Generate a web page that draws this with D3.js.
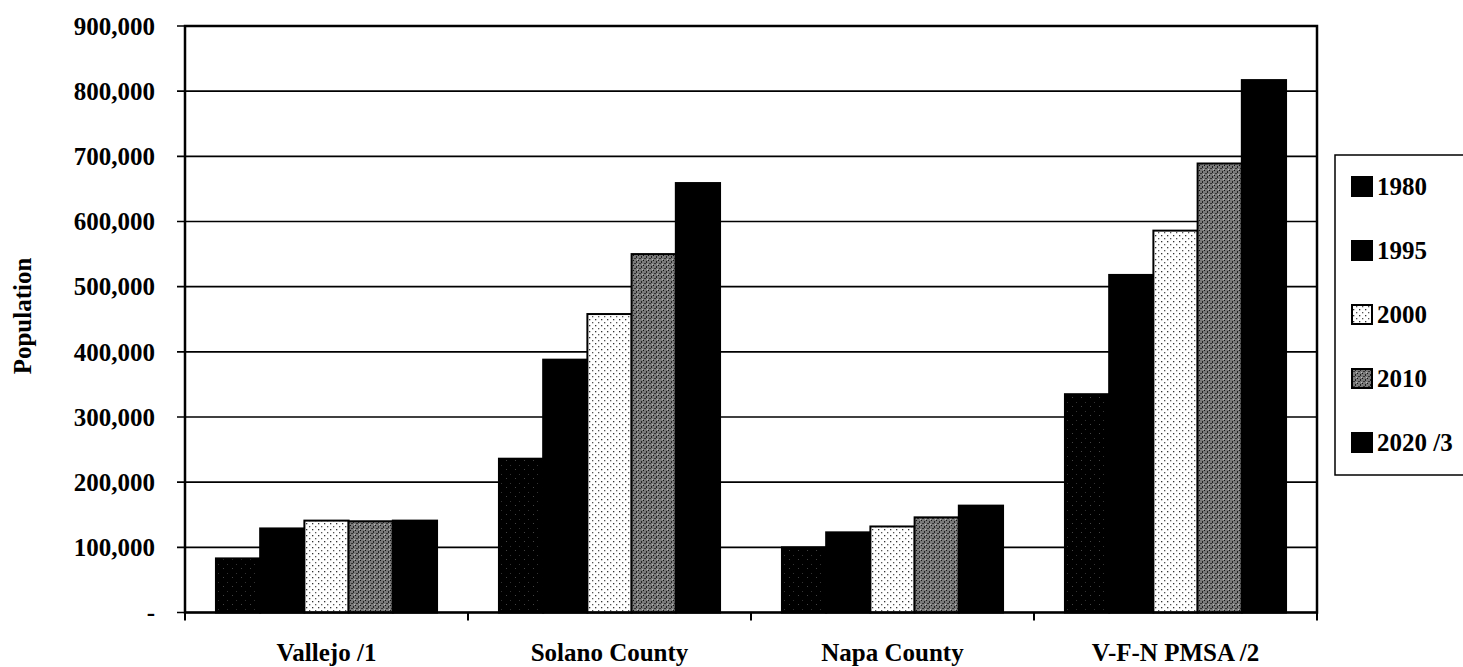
<!DOCTYPE html>
<html>
<head>
<meta charset="utf-8">
<script src="https://cdn.jsdelivr.net/npm/d3@7"></script>
<style>
  body { margin: 0; background: #fff; }
  svg text { font-family: 'Liberation Serif', 'Times New Roman', serif; font-weight: bold; fill: #000; }
</style>
</head>
<body>
<div id="chart"></div>
<script>
var categories = ['Vallejo /1', 'Solano County', 'Napa County', 'V-F-N PMSA /2']
var years = ['1980', '1995', '2000', '2010', '2020 /3']
var pop1980 = [83000, 236000, 100000, 335000]
var pop1995 = [129000, 388000, 123000, 518000]
var pop2000 = [141000, 458000, 132000, 586000]
var pop2010 = [140000, 550000, 146000, 689000]
var pop2020 = [141000, 659000, 164000, 817000]
var yTicks = [0, 100000, 200000, 300000, 400000, 500000, 600000, 700000, 800000, 900000]

var series = [pop1980, pop1995, pop2000, pop2010, pop2020]

var width = 1463
var height = 667
var margin = { top: 26, left: 185, right: 146, bottom: 54.5 }

var svg = d3.select('#chart')
  .append('svg')
  .attr('width', width)
  .attr('height', height)

// fills that imitate the printed shading
var defs = svg.append('defs')

var p80 = defs.append('pattern').attr('id', 'fill-1980')
  .attr('patternUnits', 'userSpaceOnUse').attr('width', 9).attr('height', 9)
p80.append('rect').attr('width', 9).attr('height', 9).attr('fill', '#000')
p80.append('rect').attr('x', 2).attr('y', 1).attr('width', 1).attr('height', 1).attr('fill', '#444')
p80.append('rect').attr('x', 6).attr('y', 6).attr('width', 1).attr('height', 1).attr('fill', '#333')

var p00 = defs.append('pattern').attr('id', 'fill-2000')
  .attr('patternUnits', 'userSpaceOnUse').attr('width', 6).attr('height', 6)
p00.append('rect').attr('width', 6).attr('height', 6).attr('fill', '#fff')
p00.append('rect').attr('x', 1).attr('y', 1).attr('width', 1.3).attr('height', 1.3).attr('fill', '#333')
p00.append('rect').attr('x', 4).attr('y', 4).attr('width', 1.3).attr('height', 1.3).attr('fill', '#555')

var p10 = defs.append('pattern').attr('id', 'fill-2010')
  .attr('patternUnits', 'userSpaceOnUse').attr('width', 5).attr('height', 5)
p10.append('rect').attr('width', 5).attr('height', 5).attr('fill', '#7a7a7a')
p10.append('rect').attr('x', 0).attr('y', 0).attr('width', 1).attr('height', 1).attr('fill', '#111')
p10.append('rect').attr('x', 3).attr('y', 1).attr('width', 1).attr('height', 2).attr('fill', '#222')
p10.append('rect').attr('x', 1).attr('y', 3).attr('width', 2).attr('height', 1).attr('fill', '#333')
p10.append('rect').attr('x', 4).attr('y', 4).attr('width', 1).attr('height', 1).attr('fill', '#bbb')

var fills = ['url(#fill-1980)', '#000', 'url(#fill-2000)', 'url(#fill-2010)', '#000']
var legendFills = ['#000', '#000', 'url(#fill-2000)', 'url(#fill-2010)', '#000']

// scales
var x0 = d3.scaleBand()
  .domain(categories)
  .range([margin.left, width - margin.right])
  .padding(0)

var x1 = d3.scaleBand()
  .domain(years)
  .range([0, x0.bandwidth()])
  .paddingInner(0)
  .paddingOuter(0.7)

var y = d3.scaleLinear()
  .domain([0, 900000])
  .range([height - margin.bottom, margin.top])

// grid lines
svg.append('g')
  .selectAll('line')
  .data(yTicks)
  .enter()
  .append('line')
  .attr('x1', margin.left - 8)
  .attr('x2', width - margin.right)
  .attr('y1', d => y(d))
  .attr('y2', d => y(d))
  .attr('stroke', '#000')
  .attr('stroke-width', 1.6)

// y tick labels
svg.append('g')
  .selectAll('text')
  .data(yTicks)
  .enter()
  .append('text')
  .attr('x', 155)
  .attr('y', d => y(d))
  .attr('dy', '0.35em')
  .attr('text-anchor', 'end')
  .attr('font-size', '25px')
  .text(d => d === 0 ? '-' : d3.format(',')(d))

// bars
var groups = svg.append('g')
  .selectAll('g')
  .data(categories)
  .enter()
  .append('g')
  .attr('transform', d => 'translate(' + x0(d) + ',0)')

groups.selectAll('rect')
  .data((d, i) => years.map((yr, s) => ({ year: yr, s: s, value: series[s][i] })))
  .enter()
  .append('rect')
  .attr('x', d => x1(d.year))
  .attr('y', d => y(d.value))
  .attr('width', x1.bandwidth())
  .attr('height', d => y(0) - y(d.value))
  .attr('fill', d => fills[d.s])
  .attr('stroke', '#000')
  .attr('stroke-width', 2)

// plot frame
svg.append('rect')
  .attr('x', margin.left)
  .attr('y', margin.top)
  .attr('width', width - margin.right - margin.left)
  .attr('height', y(0) - margin.top)
  .attr('fill', 'none')
  .attr('stroke', '#000')
  .attr('stroke-width', 2.5)

// x axis ticks at category boundaries
var bounds = categories.map(c => x0(c)).concat([width - margin.right])
svg.append('g')
  .selectAll('line')
  .data(bounds)
  .enter()
  .append('line')
  .attr('x1', d => d)
  .attr('x2', d => d)
  .attr('y1', y(0))
  .attr('y2', y(0) + 8)
  .attr('stroke', '#000')
  .attr('stroke-width', 2)

// category labels
svg.append('g')
  .selectAll('text')
  .data(categories)
  .enter()
  .append('text')
  .attr('x', d => x0(d) + x0.bandwidth() / 2)
  .attr('y', 661)
  .attr('text-anchor', 'middle')
  .attr('font-size', '25px')
  .text(d => d)

// y axis title
svg.append('text')
  .attr('transform', 'translate(31,316) rotate(-90)')
  .attr('text-anchor', 'middle')
  .attr('font-size', '25px')
  .text('Population')

// legend
var legend = svg.append('g')
legend.append('rect')
  .attr('x', 1335)
  .attr('y', 155)
  .attr('width', 140)
  .attr('height', 320)
  .attr('fill', '#fff')
  .attr('stroke', '#000')
  .attr('stroke-width', 1.5)

var items = legend.selectAll('g.item')
  .data(years)
  .enter()
  .append('g')
  .attr('class', 'item')
  .attr('transform', (d, i) => 'translate(1352,' + (186 + i * 64) + ')')

items.append('rect')
  .attr('x', 0)
  .attr('y', -9)
  .attr('width', 20)
  .attr('height', 19)
  .attr('fill', (d, i) => legendFills[i])
  .attr('stroke', '#000')
  .attr('stroke-width', 2)

items.append('text')
  .attr('x', 25)
  .attr('y', 0)
  .attr('dy', '0.35em')
  .attr('font-size', '25px')
  .text(d => d)
</script>
</body>
</html>
